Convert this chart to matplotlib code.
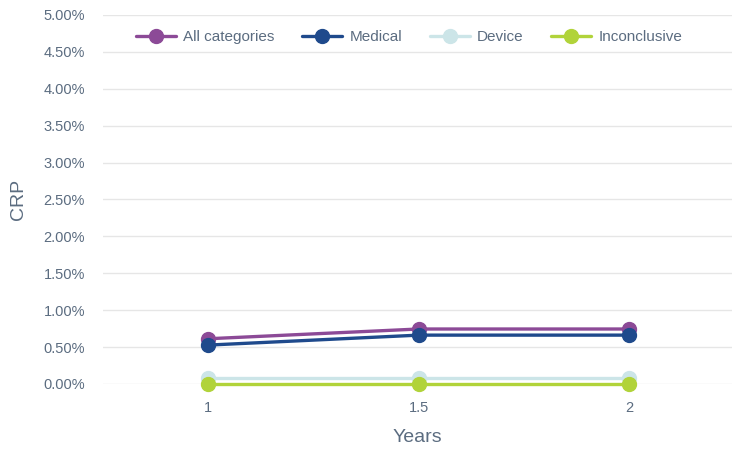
import matplotlib
matplotlib.use("Agg")
import matplotlib.pyplot as plt
from matplotlib.ticker import FuncFormatter

# data
years = [1, 1.5, 2]
all_categories = [0.613, 0.745, 0.745]
medical = [0.527, 0.662, 0.662]
device = [0.08, 0.08, 0.08]
inconclusive = [0.0, 0.0, 0.0]

series = [
    ("All categories", all_categories, "#8C4A97"),
    ("Medical", medical, "#1F4A8C"),
    ("Device", device, "#CCE5E8"),
    ("Inconclusive", inconclusive, "#B1D33A"),
]

text_color = "#5B6C80"
plt.rcParams["font.family"] = ["Liberation Sans", "DejaVu Sans"]

fig = plt.figure(figsize=(7.32, 4.49), dpi=100)
ax = fig.add_axes([0.1407, 0.1448, 0.8593, 0.8218])

for name, vals, color in series:
    ax.plot(years, vals, color=color, lw=2.4, marker="o", markersize=10,
            label=name, solid_capstyle="round", clip_on=False)

ax.set_xlim(0.75, 2.245)
ax.set_ylim(0, 5.0)
ax.set_yticks([i * 0.5 for i in range(11)])
ax.set_xticks(years)
ax.set_xticklabels(["1", "1.5", "2"])
ax.yaxis.set_major_formatter(FuncFormatter(lambda v, p: f"{v:.2f}%"))

ax.grid(axis="y", color="#E6E6E6", lw=1)
ax.set_axisbelow(True)
for s in ax.spines.values():
    s.set_visible(False)
ax.tick_params(axis="both", length=0, colors=text_color, labelsize=10.5)
ax.tick_params(axis="y", pad=13)
ax.tick_params(axis="x", pad=12)

ax.set_xlabel("Years", color=text_color, fontsize=14, labelpad=10)
ax.set_ylabel("CRP", color=text_color, fontsize=14, labelpad=12)

leg = ax.legend(loc="upper center", bbox_to_anchor=(0.487, 0.997), ncol=4,
                frameon=False, fontsize=11, handlelength=2.6,
                columnspacing=1.8, handletextpad=0.5)
for t in leg.get_texts():
    t.set_color(text_color)

fig.savefig("out.png", dpi=100)
